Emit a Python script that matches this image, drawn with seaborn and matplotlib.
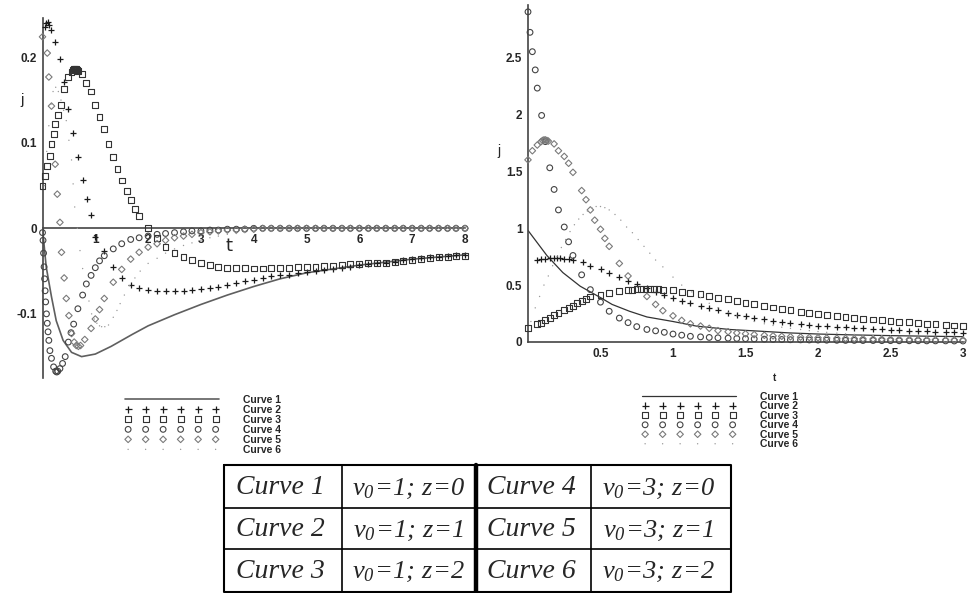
import matplotlib
matplotlib.use("Agg")
import matplotlib.pyplot as plt
from matplotlib.ticker import MultipleLocator
import seaborn as sns

sns.set_style("white")
plt.rcParams["font.family"] = ["Liberation Sans", "DejaVu Sans"]
plt.rcParams["axes.unicode_minus"] = False
plt.rcParams["mathtext.fontset"] = "custom"
plt.rcParams["mathtext.it"] = "Liberation Serif:italic"
plt.rcParams["mathtext.rm"] = "Liberation Serif:italic"

# ---------------- left panel: t in [0, 8] ----------------
tail_t_left = [2.17, 2.33, 2.5, 2.67, 2.83, 3.0, 3.17, 3.33, 3.5, 3.67, 3.83, 4.0,
               4.17, 4.33, 4.5, 4.67, 4.83, 5.0, 5.17, 5.33, 5.5, 5.67, 5.83, 6.0,
               6.17, 6.33, 6.5, 6.67, 6.83, 7.0, 7.17, 7.33, 7.5, 7.67, 7.83, 8.0]

c1_t_left = [0, 0.07, 0.17, 0.26, 0.39, 0.55, 0.74, 1.0, 1.3, 1.7, 2.0, 2.5, 3.0, 3.5,
             4.0, 4.5, 5.0, 6.0, 7.0, 8.0]
c1_j_left = [0, -0.045, -0.080, -0.108, -0.131, -0.145, -0.150, -0.147, -0.138, -0.124,
             -0.114, -0.101, -0.089, -0.078, -0.068, -0.059, -0.052, -0.043, -0.036, -0.031]

c2_t_left = [0.04, 0.07, 0.1, 0.13, 0.16, 0.24, 0.33, 0.41, 0.49, 0.58, 0.67, 0.76, 0.84,
             0.92, 1.0, 1.17, 1.34, 1.5, 1.67, 1.83, 2.0]
c2_j_left = [0.236, 0.240, 0.241, 0.238, 0.232, 0.218, 0.198, 0.171, 0.140, 0.111, 0.083,
             0.057, 0.034, 0.016, -0.010, -0.026, -0.045, -0.058, -0.066, -0.070, -0.072]
c2_tail_left = [-0.073, -0.073, -0.073, -0.073, -0.072, -0.071, -0.070, -0.068, -0.066,
                -0.064, -0.062, -0.060, -0.058, -0.056, -0.055, -0.054, -0.052, -0.051,
                -0.050, -0.049, -0.047, -0.046, -0.045, -0.043, -0.042, -0.041, -0.040,
                -0.039, -0.037, -0.036, -0.035, -0.034, -0.033, -0.032, -0.031, -0.031]

c3_t_left = [0.0, 0.04, 0.09, 0.14, 0.17, 0.21, 0.24, 0.3, 0.35, 0.41, 0.49, 0.55, 0.58,
             0.6, 0.62, 0.64, 0.66, 0.68, 0.74, 0.83, 0.92, 1.0, 1.08, 1.17, 1.25, 1.34,
             1.42, 1.5, 1.6, 1.68, 1.75, 1.83, 2.0]
c3_j_left = [0.050, 0.061, 0.073, 0.085, 0.099, 0.110, 0.122, 0.133, 0.144, 0.163, 0.177,
             0.183, 0.185, 0.186, 0.186, 0.186, 0.185, 0.184, 0.180, 0.170, 0.160, 0.144,
             0.130, 0.116, 0.099, 0.083, 0.069, 0.056, 0.044, 0.033, 0.023, 0.014, 0.0]
c3_tail_left = [-0.011, -0.022, -0.029, -0.034, -0.037, -0.041, -0.043, -0.045, -0.046,
                -0.046, -0.046, -0.047, -0.047, -0.046, -0.046, -0.046, -0.045, -0.045,
                -0.045, -0.044, -0.044, -0.043, -0.042, -0.042, -0.041, -0.040, -0.040,
                -0.039, -0.038, -0.037, -0.036, -0.035, -0.034, -0.033, -0.032, -0.032]

c4_t_left = [0.0, 0.01, 0.02, 0.03, 0.04, 0.05, 0.06, 0.075, 0.09, 0.105, 0.12, 0.14, 0.17,
             0.21, 0.25, 0.27, 0.29, 0.33, 0.38, 0.43, 0.49, 0.54, 0.59, 0.67, 0.76, 0.83,
             0.92, 1.0, 1.08, 1.17, 1.34, 1.5, 1.67, 1.83, 2.0]
c4_j_left = [-0.005, -0.014, -0.029, -0.045, -0.059, -0.073, -0.086, -0.100, -0.111,
             -0.121, -0.131, -0.143, -0.152, -0.162, -0.167, -0.168, -0.167, -0.164,
             -0.158, -0.150, -0.133, -0.122, -0.112, -0.094, -0.078, -0.065, -0.055,
             -0.046, -0.038, -0.032, -0.024, -0.018, -0.013, -0.011, -0.009]
c4_tail_left = [-0.007, -0.006, -0.005, -0.004, -0.003, -0.003, -0.002, -0.002, -0.001,
                -0.001, -0.001, 0, 0, 0, 0, 0, 0, 0, 0, 0, 0, 0, 0, 0, 0, 0, 0, 0, 0,
                0, 0, 0, 0, 0, 0, 0]

c5_t_left = [0.0, 0.09, 0.12, 0.17, 0.24, 0.28, 0.33, 0.36, 0.41, 0.45, 0.5, 0.55, 0.6,
             0.64, 0.68, 0.72, 0.8, 0.92, 1.0, 1.08, 1.17, 1.34, 1.5, 1.67, 1.83, 2.0]
c5_j_left = [0.224, 0.205, 0.177, 0.143, 0.075, 0.040, 0.007, -0.028, -0.058, -0.082,
             -0.102, -0.123, -0.133, -0.137, -0.138, -0.137, -0.130, -0.117, -0.106,
             -0.095, -0.082, -0.063, -0.048, -0.036, -0.028, -0.022]
c5_tail_left = [-0.018, -0.014, -0.011, -0.009, -0.007, -0.005, -0.004, -0.003, -0.002,
                -0.002, -0.001, -0.001, 0, 0, 0, 0, 0, 0, 0, 0, 0, 0, 0, 0, 0, 0, 0, 0,
                0, 0, 0, 0, 0, 0, 0, 0]

c6_t_left = [0.04, 0.08, 0.12, 0.16, 0.2, 0.25, 0.3, 0.35, 0.4, 0.45, 0.5, 0.55, 0.58,
             0.61, 0.66, 0.71, 0.76, 0.82, 0.88, 0.93, 0.98, 1.03, 1.08, 1.12, 1.18,
             1.25, 1.34, 1.41, 1.47, 1.55, 1.65, 1.75, 1.85, 2.0]
c6_j_left = [0.05, 0.09, 0.12, 0.145, 0.16, 0.165, 0.16, 0.15, 0.138, 0.126, 0.103, 0.08,
             0.052, 0.025, 0.0, -0.026, -0.047, -0.068, -0.085, -0.1, -0.106, -0.111,
             -0.114, -0.115, -0.115, -0.113, -0.104, -0.096, -0.088, -0.078, -0.067,
             -0.058, -0.05, -0.041]
c6_tail_left = [-0.035, -0.029, -0.024, -0.02, -0.017, -0.014, -0.011, -0.009, -0.007,
                -0.006, -0.005, -0.004, -0.003, -0.003, -0.002, -0.002, -0.001, -0.001,
                0, 0, 0, 0, 0, 0, 0, 0, 0, 0, 0, 0, 0, 0, 0, 0, 0, 0]

# ---------------- right panel: t in [0, 3] ----------------
tail_t_right = [1.38, 1.44, 1.5, 1.56, 1.63, 1.69, 1.75, 1.81, 1.88, 1.94, 2.0, 2.06,
                2.13, 2.19, 2.25, 2.31, 2.38, 2.44, 2.5, 2.56, 2.63, 2.69, 2.75, 2.81,
                2.88, 2.94, 3.0]

c1_t_right = [0, 0.13, 0.24, 0.36, 0.5, 0.58, 0.7, 0.82, 1.0, 1.16, 1.39, 1.6, 1.8, 2.0,
              2.25, 2.5, 2.75, 3.0]
c1_j_right = [0.98, 0.76, 0.61, 0.49, 0.39, 0.33, 0.27, 0.22, 0.18, 0.14, 0.11, 0.095,
              0.08, 0.07, 0.062, 0.056, 0.051, 0.047]

c2_t_right = [0.06, 0.09, 0.12, 0.15, 0.18, 0.2, 0.22, 0.25, 0.28, 0.31, 0.38, 0.43, 0.5,
              0.56, 0.63, 0.69, 0.75, 0.82, 0.88, 0.94, 1.0, 1.06, 1.12, 1.19, 1.25, 1.31]
c2_j_right = [0.72, 0.725, 0.73, 0.735, 0.735, 0.735, 0.735, 0.73, 0.73, 0.72, 0.70, 0.67,
              0.64, 0.61, 0.575, 0.54, 0.51, 0.47, 0.435, 0.41, 0.385, 0.36, 0.34, 0.32,
              0.30, 0.28]
c2_tail_right = [0.255, 0.24, 0.225, 0.212, 0.2, 0.188, 0.178, 0.168, 0.159, 0.151, 0.143,
                 0.138, 0.133, 0.128, 0.124, 0.12, 0.115, 0.111, 0.107, 0.103, 0.099,
                 0.096, 0.093, 0.09, 0.087, 0.084, 0.081]

c3_t_right = [0.0, 0.06, 0.09, 0.12, 0.15, 0.18, 0.21, 0.25, 0.28, 0.31, 0.34, 0.37, 0.4,
              0.43, 0.5, 0.56, 0.63, 0.69, 0.72, 0.75, 0.78, 0.81, 0.84, 0.87, 0.9, 0.93,
              1.0, 1.06, 1.12, 1.19, 1.25, 1.31]
c3_j_right = [0.12, 0.155, 0.17, 0.19, 0.21, 0.235, 0.255, 0.28, 0.3, 0.32, 0.34, 0.36,
              0.38, 0.4, 0.41, 0.43, 0.445, 0.455, 0.46, 0.465, 0.465, 0.465, 0.465, 0.465,
              0.463, 0.46, 0.455, 0.44, 0.43, 0.42, 0.405, 0.39]
c3_tail_right = [0.375, 0.36, 0.345, 0.33, 0.316, 0.303, 0.29, 0.278, 0.267, 0.256, 0.246,
                 0.237, 0.228, 0.22, 0.212, 0.205, 0.198, 0.191, 0.184, 0.178, 0.172,
                 0.166, 0.16, 0.155, 0.15, 0.145, 0.14]

c4_t_right = [0.0, 0.014, 0.03, 0.05, 0.064, 0.094, 0.12, 0.15, 0.18, 0.21, 0.25, 0.28,
              0.31, 0.37, 0.43, 0.5, 0.56, 0.63, 0.69, 0.75, 0.82, 0.88, 0.94, 1.0, 1.06,
              1.12, 1.19, 1.25, 1.31]
c4_j_right = [2.9, 2.72, 2.55, 2.39, 2.23, 1.99, 1.76, 1.53, 1.34, 1.16, 1.01, 0.88, 0.76,
              0.59, 0.46, 0.35, 0.27, 0.21, 0.17, 0.135, 0.11, 0.098, 0.085, 0.07, 0.06,
              0.05, 0.045, 0.04, 0.037]
c4_tail_right = [0.034, 0.031, 0.029, 0.027, 0.025, 0.023, 0.022, 0.02, 0.019, 0.018,
                 0.017, 0.016, 0.015, 0.014, 0.014, 0.013, 0.013, 0.012, 0.012, 0.011,
                 0.011, 0.011, 0.01, 0.01, 0.01, 0.009, 0.009]

c5_t_right = [0.0, 0.03, 0.064, 0.09, 0.1, 0.11, 0.12, 0.13, 0.14, 0.18, 0.21, 0.25, 0.28,
              0.31, 0.37, 0.4, 0.43, 0.46, 0.5, 0.53, 0.56, 0.63, 0.69, 0.82, 0.88, 0.93,
              1.0, 1.06, 1.12, 1.19, 1.25, 1.31]
c5_j_right = [1.6, 1.68, 1.73, 1.76, 1.77, 1.775, 1.775, 1.77, 1.765, 1.74, 1.68, 1.63,
              1.57, 1.49, 1.33, 1.25, 1.16, 1.07, 0.99, 0.91, 0.84, 0.69, 0.58, 0.4, 0.33,
              0.275, 0.23, 0.19, 0.16, 0.14, 0.12, 0.1]
c5_tail_right = [0.09, 0.08, 0.072, 0.065, 0.059, 0.054, 0.05, 0.046, 0.043, 0.04, 0.037,
                 0.035, 0.033, 0.031, 0.029, 0.028, 0.026, 0.025, 0.024, 0.023, 0.022,
                 0.021, 0.02, 0.019, 0.018, 0.018, 0.017]

c6_t_right = [0.02, 0.05, 0.08, 0.11, 0.14, 0.17, 0.2, 0.23, 0.26, 0.29, 0.32, 0.35, 0.38,
              0.41, 0.44, 0.47, 0.5, 0.53, 0.56, 0.6, 0.64, 0.68, 0.72, 0.76, 0.8, 0.84,
              0.88, 0.93, 1.0, 1.06, 1.13, 1.19, 1.25, 1.31]
c6_j_right = [0.18, 0.3, 0.4, 0.5, 0.58, 0.67, 0.75, 0.83, 0.9, 0.97, 1.03, 1.08, 1.12,
              1.15, 1.18, 1.19, 1.19, 1.18, 1.16, 1.12, 1.07, 1.01, 0.96, 0.9, 0.84, 0.78,
              0.72, 0.66, 0.57, 0.5, 0.44, 0.39, 0.34, 0.3]
c6_tail_right = [0.26, 0.23, 0.2, 0.18, 0.16, 0.145, 0.13, 0.12, 0.11, 0.1, 0.092, 0.085,
                 0.078, 0.072, 0.067, 0.062, 0.058, 0.054, 0.05, 0.047, 0.044, 0.041,
                 0.039, 0.037, 0.035, 0.033, 0.031]

# ---------------- table under the plots ----------------
curve_names = ["Curve 1", "Curve 2", "Curve 3", "Curve 4", "Curve 5", "Curve 6"]
v0_values = [1, 1, 1, 3, 3, 3]
z_values = [0, 1, 2, 0, 1, 2]

# marker look for each point curve (Maple style)
STYLES = {
    "Curve 2": dict(marker="+", s=24, color="#1a1a1a", linewidth=0.9),
    "Curve 3": dict(marker="s", s=18, color="#333333", facecolor="none",
                    edgecolor="#333333", linewidth=0.8),
    "Curve 4": dict(marker="o", s=17, color="#444444", facecolor="none",
                    edgecolor="#444444", linewidth=0.8),
    "Curve 5": dict(marker="D", s=11, color="#7a7a7a", facecolor="none",
                    edgecolor="#7a7a7a", linewidth=0.8),
    "Curve 6": dict(marker=".", s=4, color="#9a9a9a", edgecolor="none"),
}
BOLD_NARROW = dict(family=["Liberation Sans Narrow", "Liberation Sans", "DejaVu Sans"],
                   weight="bold")

W, H = 973, 593
fig = plt.figure(figsize=(W / 100, H / 100), dpi=100)


def px_box(x0, y0, x1, y1):
    # pixel box (top-left origin) -> figure fraction rect
    return [x0 / W, 1 - y1 / H, (x1 - x0) / W, (y1 - y0) / H]


ax_l = fig.add_axes(px_box(42.5, 18, 465, 378))
ax_r = fig.add_axes(px_box(528, 5, 963, 342))


def draw_panel(ax, line_t, line_j, point_series, line_color, line_width):
    sns.lineplot(x=line_t, y=line_j, ax=ax, color=line_color, linewidth=line_width,
                 sort=False, estimator=None, label="Curve 1", legend=False)
    for name, (t, j) in point_series.items():
        sns.scatterplot(x=t, y=j, ax=ax, label=name, legend=False, clip_on=False,
                        zorder=3, **STYLES[name])


draw_panel(ax_l, c1_t_left, c1_j_left, {
    "Curve 2": (c2_t_left + tail_t_left, c2_j_left + c2_tail_left),
    "Curve 3": (c3_t_left + tail_t_left, c3_j_left + c3_tail_left),
    "Curve 4": (c4_t_left + tail_t_left, c4_j_left + c4_tail_left),
    "Curve 5": (c5_t_left + tail_t_left, c5_j_left + c5_tail_left),
    "Curve 6": (c6_t_left + tail_t_left, c6_j_left + c6_tail_left),
}, "#5f5f5f", 1.2)

draw_panel(ax_r, c1_t_right, c1_j_right, {
    "Curve 2": (c2_t_right + tail_t_right, c2_j_right + c2_tail_right),
    "Curve 3": (c3_t_right + tail_t_right, c3_j_right + c3_tail_right),
    "Curve 4": (c4_t_right + tail_t_right, c4_j_right + c4_tail_right),
    "Curve 5": (c5_t_right + tail_t_right, c5_j_right + c5_tail_right),
    "Curve 6": (c6_t_right + tail_t_right, c6_j_right + c6_tail_right),
}, "#333333", 0.9)

# axes through the origin, Maple look
for ax in (ax_l, ax_r):
    ax.spines["left"].set_position(("data", 0))
    ax.spines["bottom"].set_position(("data", 0))
    ax.spines["top"].set_visible(False)
    ax.spines["right"].set_visible(False)
    for side in ("left", "bottom"):
        ax.spines[side].set_color("#444444")
        ax.spines[side].set_linewidth(1.2)
    ax.set_facecolor("none")
    ax.tick_params(which="major", direction="out", length=3, width=0.8,
                   color="#444444", pad=1, labelsize=8)
    ax.tick_params(which="minor", direction="out", length=2, width=0.6, color="#444444")

ax_l.set_xlim(0, 8)
ax_l.set_ylim(-0.175, 0.246)
ax_l.set_xticks(range(9), labels=[""] + [str(k) for k in range(1, 9)])
ax_l.set_yticks([-0.1, 0, 0.1, 0.2], labels=["-0.1", "0", "0.1", "0.2"])
ax_l.yaxis.set_minor_locator(MultipleLocator(0.02))
ax_l.text(3.53, -0.021, "t", fontsize=13, ha="center", va="center",
          family=["DejaVu Sans"])
ax_l.text(-0.39, 0.15, "j", fontsize=11, ha="center", va="center", clip_on=False)

ax_r.set_xlim(0, 3)
ax_r.set_ylim(0, 2.96)
ax_r.set_xticks([0.5, 1, 1.5, 2, 2.5, 3], labels=["0.5", "1", "1.5", "2", "2.5", "3"])
ax_r.set_yticks([0, 0.5, 1, 1.5, 2, 2.5], labels=["0", "0.5", "1", "1.5", "2", "2.5"])
ax_r.yaxis.set_minor_locator(MultipleLocator(0.1))
ax_r.text(-0.2, 1.68, "j", fontsize=10, ha="center", va="center", clip_on=False)
ax_r.text(1.7, -0.32, "t", fontsize=7, ha="center", va="center", clip_on=False,
          **BOLD_NARROW)

for ax in (ax_l, ax_r):
    for lab in ax.get_xticklabels() + ax.get_yticklabels():
        lab.set_fontproperties(dict(size=8.5, **BOLD_NARROW))

# legends: six sample points per entry, like Maple
for ax, left, top, gap in ((ax_l, 125, 395, 0.0), (ax_r, 642, 392, -0.05)):
    handles, labels = ax.get_legend_handles_labels()
    fig.legend(handles, labels, loc="upper left",
               bbox_to_anchor=(left / W, 1 - top / H), frameon=False, borderpad=0,
               borderaxespad=0, scatterpoints=6, scatteryoffsets=[0.5],
               handlelength=9.0, handletextpad=2.3, labelspacing=gap,
               prop=dict(size=7.5, **BOLD_NARROW))

# table drawn in pixel coordinates
ax_t = fig.add_axes([0, 0, 1, 1], zorder=-1)
ax_t.set_xlim(0, W)
ax_t.set_ylim(H, 0)
ax_t.axis("off")
x_left, x_right, y_top, y_bot = 224, 731, 465, 592
ax_t.plot([x_left, x_right, x_right, x_left, x_left], [y_top, y_top, y_bot, y_bot, y_top],
          color="black", linewidth=1.5)
for yy in (508, 549):
    ax_t.plot([x_left, x_right], [yy, yy], color="black", linewidth=1.2)
for xx, lw in ((342, 1.2), (591, 1.2), (476, 3.2)):
    ax_t.plot([xx, xx], [y_top, y_bot], color="black", linewidth=lw)

row_y = [488, 530, 571]
for k, name in enumerate(curve_names):
    row = k % 3
    name_x, param_x = (280, 409) if k < 3 else (531, 659)
    ax_t.text(name_x, row_y[row], name, fontsize=20, style="italic",
              family=["Liberation Serif", "DejaVu Serif"], ha="center", va="center")
    ax_t.text(param_x, row_y[row] + 1,
              rf"$v_0\!=\!{v0_values[k]};\,z\!=\!{z_values[k]}$",
              fontsize=19, ha="center", va="center")

fig.savefig("out.png", dpi=100)
